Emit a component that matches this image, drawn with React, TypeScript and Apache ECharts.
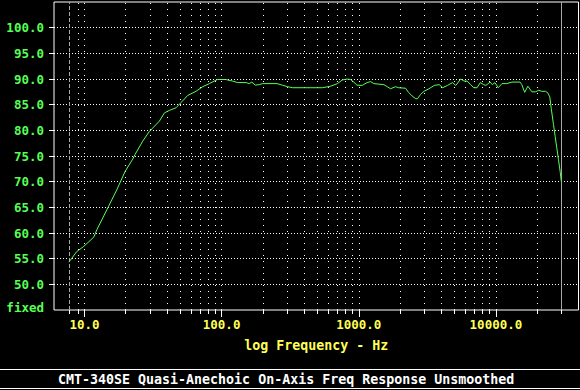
import React, { useEffect, useRef } from "react";
import * as echarts from "echarts";

// Measured response (Hz, dB)
const FREQ_HZ = [
  7.7, 8.8, 9.9, 11.7, 12.3, 15.0, 17.2, 19.8, 22.5, 23.4, 26.6, 29.8, 35.2, 38.3, 41.7, 46.6, 50.6,
  56.6, 65.1, 72.8, 81.4, 93, 107, 120, 131, 151, 159, 166, 176, 188, 199, 254, 277, 303, 330, 543,
  625, 699, 758, 823, 870, 920, 970, 1060, 1150, 1220, 1290, 1525, 1613, 1705, 1853, 1955, 2193,
  2306, 2449, 2605, 2680, 2821, 2991, 3250, 3550, 3860, 4090, 4440, 4820, 5100, 5540, 5850, 6180,
  6530, 6900, 7290, 7700, 8130, 8450, 9070, 9410, 9840, 10390, 11070, 12000, 13090, 15000, 15450,
  16200, 17100, 18300, 19400, 20500, 21600, 23000, 23900, 24700, 25300, 26300, 27040, 27780, 28580,
  29390, 30000,
];
const LEVEL_DB = [
  54.3, 56.4, 57.4, 59.2, 60.6, 65.2, 68.4, 72.0, 74.4, 75.3, 77.9, 79.8, 81.8, 83.4, 83.9, 84.4, 85.4,
  86.8, 87.6, 88.5, 89.1, 89.9, 89.9, 89.6, 89.3, 89.3, 89.1, 89.4, 88.8, 88.9, 89.1, 89.1, 88.8, 88.5,
  88.3, 88.3, 88.6, 89.1, 89.8, 90.0, 89.9, 89.4, 88.8, 88.75, 89.3, 89.5, 89.1, 88.9, 88.5, 88.1, 88.5,
  88.3, 88.2, 87.4, 86.7, 86.15, 86.15, 87.0, 87.6, 88.1, 88.75, 88.9, 88.3, 88.75, 89.3, 88.75, 90.0,
  89.6, 89.6, 88.9, 88.3, 88.3, 89.3, 88.9, 88.75, 89.4, 88.9, 89.3, 88.3, 89.1, 89.1, 89.4, 89.4, 88.9,
  87.4, 88.6, 87.5, 87.5, 87.8, 87.6, 87.6, 87.3, 86.5, 84.3, 81.1, 78.8, 76.6, 74.3, 72.0, 70.0,
];

const X_MIN = 6;
const X_MAX = 40000;
const Y_MIN = 45;
const Y_MAX = 105;
const Y_STEP = 5;
const DECADES = [10, 100, 1000, 10000];
const MINOR_GRID = [
  9, 20, 30, 40, 50, 60, 70, 80, 90, 200, 300, 400, 500, 600, 700, 800, 900, 2000, 3000, 4000, 5000,
  6000, 7000, 8000, 9000, 20000,
];
const DATA_START = 7.7;
const DATA_END = 30000;
const Y_TICKS = [50, 55, 60, 65, 70, 75, 80, 85, 90, 95, 100];
const X_TITLE = "log Frequency - Hz";
const CAPTION = "CMT-340SE Quasi-Anechoic On-Axis Freq Response Unsmoothed";

const FONT = "DejaVu Sans Mono";
const GREEN = "#55ff55";
const YELLOW = "#ffff55";

export default function App() {
  const ref = useRef<HTMLDivElement>(null);
  useEffect(() => {
    if (!ref.current) return;
    const chart = echarts.init(ref.current, null, { renderer: "svg" });
    const data = FREQ_HZ.map((f, i) => [f, LEVEL_DB[i]]);
    const gridLines = [...DECADES, ...MINOR_GRID].map((f) => ({
      xAxis: f,
      lineStyle: { color: "#ffffff", type: [1, 5], width: 1 },
    }));
    const markerLines = [
      { xAxis: DATA_START, lineStyle: { color: "#aaaaaa", type: [4, 2], width: 1 } },
      { xAxis: DATA_END, lineStyle: { color: "#aaaaaa", type: "solid", width: 1 } },
    ];
    const xBase = {
      type: "log",
      logBase: 10,
      min: X_MIN,
      max: X_MAX,
      gridIndex: 0,
      position: "bottom",
      axisLine: { show: false },
      splitLine: { show: false },
      minorTick: { show: false },
      minorSplitLine: { show: false },
    };
    chart.setOption({
      animation: false,
      backgroundColor: "#000000",
      grid: {
        left: 54,
        top: 2,
        right: 1.5,
        bottom: 80,
        show: true,
        borderColor: "#ffffff",
        borderWidth: 1,
        backgroundColor: "transparent",
      },
      xAxis: [
        {
          ...xBase,
          name: X_TITLE,
          nameLocation: "middle",
          nameGap: 29,
          nameTextStyle: { color: YELLOW, fontFamily: FONT, fontWeight: "bold", fontSize: 13.3 },
          axisTick: {
            show: true,
            length: 7,
            lineStyle: { color: "#ffffff" },
            customValues: DECADES,
          },
          axisLabel: {
            show: true,
            margin: 8,
            color: YELLOW,
            fontFamily: FONT,
            fontWeight: "bold",
            fontSize: 12.5,
            customValues: DECADES,
            formatter: (v: number) => (DECADES.some((d) => Math.abs(d - v) < 1e-6 * d) ? v.toFixed(1) : ""),
          },
        },
        {
          ...xBase,
          axisTick: {
            show: true,
            length: 4,
            lineStyle: { color: "#ffffff" },
            customValues: [DATA_START, ...MINOR_GRID, DATA_END],
          },
          axisLabel: { show: false },
        },
      ],
      yAxis: {
        type: "value",
        min: Y_MIN,
        max: Y_MAX,
        interval: Y_STEP,
        axisLine: { show: false },
        axisTick: {
          show: true,
          length: 5,
          lineStyle: { color: "#ffffff" },
          customValues: Y_TICKS,
        },
        splitLine: { show: true, lineStyle: { color: "#ffffff", type: [1, 2], width: 1 } },
        axisLabel: {
          margin: 10,
          color: GREEN,
          fontFamily: FONT,
          fontWeight: "bold",
          fontSize: 12.5,
          formatter: (v: number) => (v === Y_MIN ? "{f|fixed}" : v === Y_MAX ? "" : v.toFixed(1)),
          rich: {
            f: {
              color: GREEN,
              fontFamily: FONT,
              fontWeight: "bold",
              fontSize: 12.5,
              padding: [0, 0, 6, 0],
            },
          },
        },
      },
      series: [
        {
          type: "line",
          xAxisIndex: 0,
          data,
          showSymbol: false,
          symbol: "none",
          lineStyle: { color: GREEN, width: 1 },
          z: 5,
          markLine: {
            silent: true,
            symbol: ["none", "none"],
            label: { show: false },
            animation: false,
            data: [...gridLines, ...markerLines],
          },
        },
      ],
      graphic: [
        {
          type: "line",
          shape: { x1: 0, y1: 369.5, x2: 580, y2: 369.5 },
          style: { stroke: "#ffffff", lineWidth: 1 },
        },
        {
          type: "line",
          shape: { x1: 0, y1: 388.5, x2: 580, y2: 388.5 },
          style: { stroke: "#ffffff", lineWidth: 1 },
        },
        {
          type: "text",
          x: 58,
          y: 379,
          style: {
            text: CAPTION,
            fill: "#ffffff",
            fontFamily: FONT,
            fontWeight: "bold",
            fontSize: 13.3,
            verticalAlign: "middle",
            align: "left",
          },
        },
      ],
    });
    return () => chart.dispose();
  }, []);
  return (
    <div
      ref={ref}
      style={{ position: "fixed", left: 0, top: 0, width: 580, height: 390, background: "#000" }}
    />
  );
}
